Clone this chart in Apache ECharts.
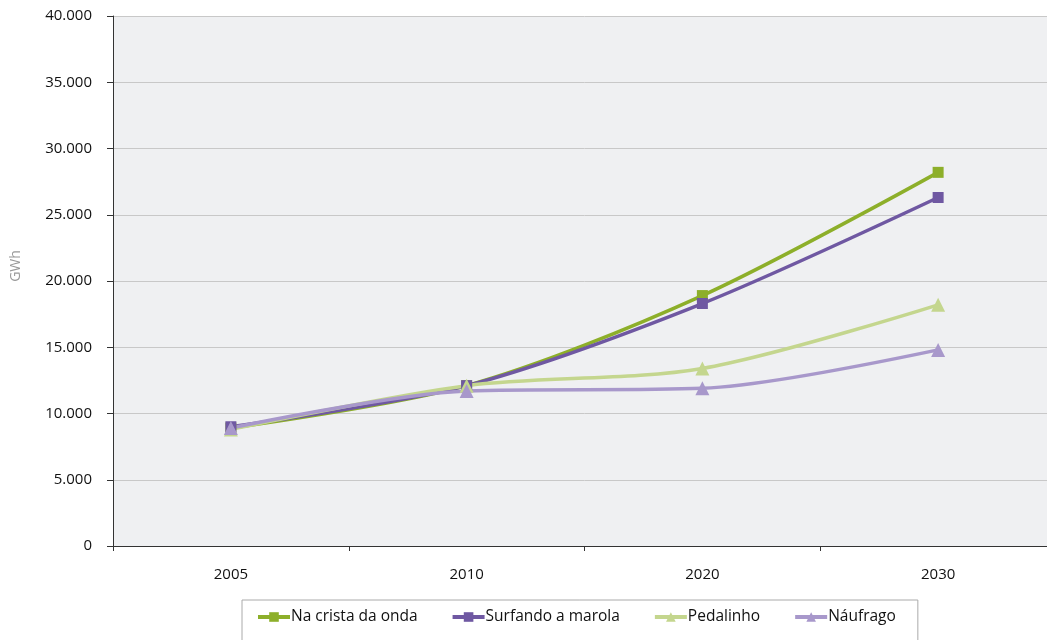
<!DOCTYPE html>
<html><head><meta charset="utf-8">
<script src="https://cdn.jsdelivr.net/npm/echarts@6/dist/echarts.min.js"></script>
<style>html,body{margin:0;padding:0;background:#fff;overflow:hidden;width:1047px;height:640px}#c{width:1056px;height:640px}</style>
</head><body><div id="c"></div>
<script>
const categories = ['2005', '2010', '2020', '2030'];
const naCrista = [8900, 12100, 18900, 28200];
const surfando = [9000, 12100, 18300, 26300];
const pedalinho = [8800, 12100, 13400, 18200];
const naufrago = [8900, 11700, 11900, 14800];
const yTicks = [0, 5000, 10000, 15000, 20000, 25000, 30000, 35000, 40000];

const FONT = '"Open Sans", sans-serif';
function fmt(v){ return String(v).replace(/\B(?=(\d{3})+(?!\d))/g, '.'); }
function mk(name, data, color, symbol, size){
  return {name, type:'line', data, smooth:0.3, symbol, symbolSize:size,
    lineStyle:{color, width:3.5}, itemStyle:{color}, emphasis:{disabled:true}};
}
const chart = echarts.init(document.getElementById('c'));
chart.setOption({
  animation:false,
  textStyle:{fontFamily:FONT},
  grid:{left:113, right:0, top:16, height:530, show:true, backgroundColor:'#EFF0F2', borderWidth:0},
  xAxis:{type:'category', data:categories, boundaryGap:true,
    axisLine:{lineStyle:{color:'#333', width:1}},
    axisTick:{show:true, length:5, lineStyle:{color:'#333'}},
    axisLabel:{color:'#111', fontSize:15, margin:21, fontFamily:FONT}},
  yAxis:{type:'value', min:yTicks[0], max:yTicks[yTicks.length-1], interval:yTicks[1]-yTicks[0], name:'GWh', nameLocation:'middle', nameGap:90,
    nameTextStyle:{color:'#999', fontSize:14, fontFamily:FONT, padding:[0,0,0,30]},
    axisLine:{show:true, lineStyle:{color:'#333'}},
    axisTick:{show:true, length:6, lineStyle:{color:'#333'}},
    splitLine:{lineStyle:{color:'#C8C8C8', width:1}},
    axisLabel:{color:'#111', fontSize:15, margin:21, formatter:v=>fmt(v), fontFamily:FONT}},
  legend:{left:242, top:600, itemWidth:32, itemHeight:12, itemGap:33,
    borderColor:'#AAAAAA', borderWidth:1, padding:[9,22,20,14],
    lineStyle:{width:4},
    textStyle:{color:'#111', fontSize:15.5, fontFamily:FONT, padding:[0,0,0,-4]},
    data:['Na crista da onda','Surfando a marola','Pedalinho','Náufrago']},
  series:[
    mk('Na crista da onda', naCrista, '#8DAF2A', 'rect', 11),
    mk('Surfando a marola', surfando, '#6F58A2', 'rect', 11),
    mk('Pedalinho', pedalinho, '#C4D68E', 'triangle', 14),
    mk('Náufrago', naufrago, '#A898CB', 'triangle', 14)
  ]
});
</script></body></html>
